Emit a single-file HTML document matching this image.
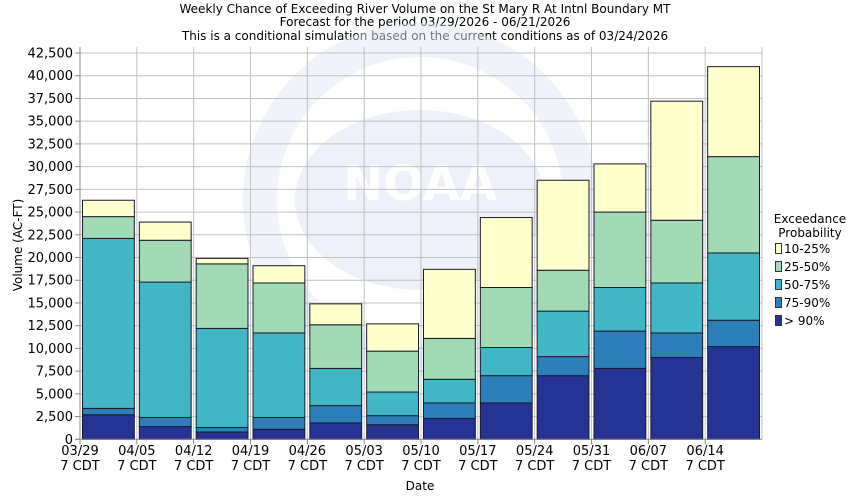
<!DOCTYPE html>
<html><head><meta charset="utf-8"><style>body{margin:0;background:#fff}svg{display:block}text{font-family:"DejaVu Sans",sans-serif;fill:#000}</style></head><body>
<svg width="850" height="500" xmlns="http://www.w3.org/2000/svg">
<rect width="850" height="500" fill="#fff"/>
<g font-size="12" text-anchor="middle">
<text x="425" y="13">Weekly Chance of Exceeding River Volume on the St Mary R At Intnl Boundary MT</text>
<text x="425" y="26">Forecast for the period 03/29/2026 - 06/21/2026</text>
<text x="425" y="40">This is a conditional simulation based on the current conditions as of 03/24/2026</text>
</g>
<!-- watermark -->
<g opacity="0.5">
<circle cx="420" cy="200" r="160" fill="none" stroke="#e4e8f6" stroke-width="34"/>
<ellipse cx="420" cy="200" rx="125" ry="90" fill="#dfe4f6"/>
<text x="420" y="200" font-size="48" font-weight="bold" text-anchor="middle" style="fill:#fff">NOAA</text>
</g>
<g id="grid" stroke="#c0c0c0" stroke-width="1"></g>
<g id="bars"></g>
<g id="axes"></g>
<g font-size="12">
<text x="810" y="223" text-anchor="middle">Exceedance</text>
<text x="810" y="237" text-anchor="middle">Probability</text>
<rect x="775.5" y="243.5" width="6" height="10" fill="#ffffcc" stroke="#333"/><text x="784" y="253">10-25%</text>
<rect x="775.5" y="261.5" width="6" height="10" fill="#a1dab4" stroke="#333"/><text x="784" y="271">25-50%</text>
<rect x="775.5" y="279.5" width="6" height="10" fill="#41b6c4" stroke="#333"/><text x="784" y="289">50-75%</text>
<rect x="775.5" y="297.5" width="6" height="10" fill="#2c7fb8" stroke="#333"/><text x="784" y="307">75-90%</text>
<rect x="775.5" y="315.5" width="6" height="10" fill="#253494" stroke="#333"/><text x="784" y="325">&gt; 90%</text>
</g>
<text x="420" y="490" font-size="12" text-anchor="middle">Date</text>
<text transform="translate(22,245) rotate(-90)" font-size="12" text-anchor="middle">Volume (AC-FT)</text>
<script>
const L=80,R=762,T=47,B=439.3,k=(B-53)/42500;
const Y=v=>B-v*k;
const ns="http://www.w3.org/2000/svg";
function el(p,t,a,txt){const e=document.createElementNS(ns,t);for(const x in a)e.setAttribute(x,a[x]);if(txt)e.textContent=txt;document.querySelector(p).appendChild(e);return e;}
const w=(R-L)/12;
for(let v=2500;v<=42500;v+=2500){el('#grid','line',{x1:L,x2:R,y1:Y(v),y2:Y(v)});}
for(let i=1;i<=12;i++){el('#grid','line',{x1:L+i*w,x2:L+i*w,y1:T,y2:B});}
const d=[[2700,3400,22100,24500,26300],[1400,2400,17300,21900,23900],[800,1300,12200,19300,19900],[1100,2400,11700,17200,19100],[1800,3700,7800,12600,14900],[1600,2600,5200,9700,12700],[2300,4000,6600,11100,18700],[4000,7000,10100,16700,24400],[7000,9100,14100,18600,28500],[7800,11900,16700,25000,30300],[9000,11700,17200,24100,37200],[10200,13100,20500,31100,41000]];
const c=['#253494','#2c7fb8','#41b6c4','#a1dab4','#ffffcc'];
d.forEach((s,i)=>{let prev=0;const x=L+i*w+2.5;s.forEach((v,j)=>{el('#bars','rect',{x:x,y:Y(v),width:w-5,height:Y(prev)-Y(v),fill:c[j],stroke:'#1a1a2a','stroke-width':1});prev=v;});});
el('#axes','line',{x1:L,x2:L,y1:T,y2:B+5,stroke:'#888'});
el('#axes','line',{x1:L-5,x2:R,y1:B,y2:B,stroke:'#888'});
for(let v=0;v<=42500;v+=2500){el('#axes','line',{x1:L-5,x2:L,y1:Y(v),y2:Y(v),stroke:'#888'});el('#axes','text',{x:L-7,y:Y(v)+4.5,'font-size':13,'text-anchor':'end'},v.toLocaleString('en-US'));}
const dates=['03/29','04/05','04/12','04/19','04/26','05/03','05/10','05/17','05/24','05/31','06/07','06/14'];
dates.forEach((t,i)=>{const x=L+i*w;el('#axes','line',{x1:x,x2:x,y1:B,y2:B+5,stroke:'#888'});el('#axes','text',{x:x,y:455,'font-size':13,'text-anchor':'middle'},t);el('#axes','text',{x:x,y:470,'font-size':13,'text-anchor':'middle'},'7 CDT');});
</script>
</svg>
</body></html>
